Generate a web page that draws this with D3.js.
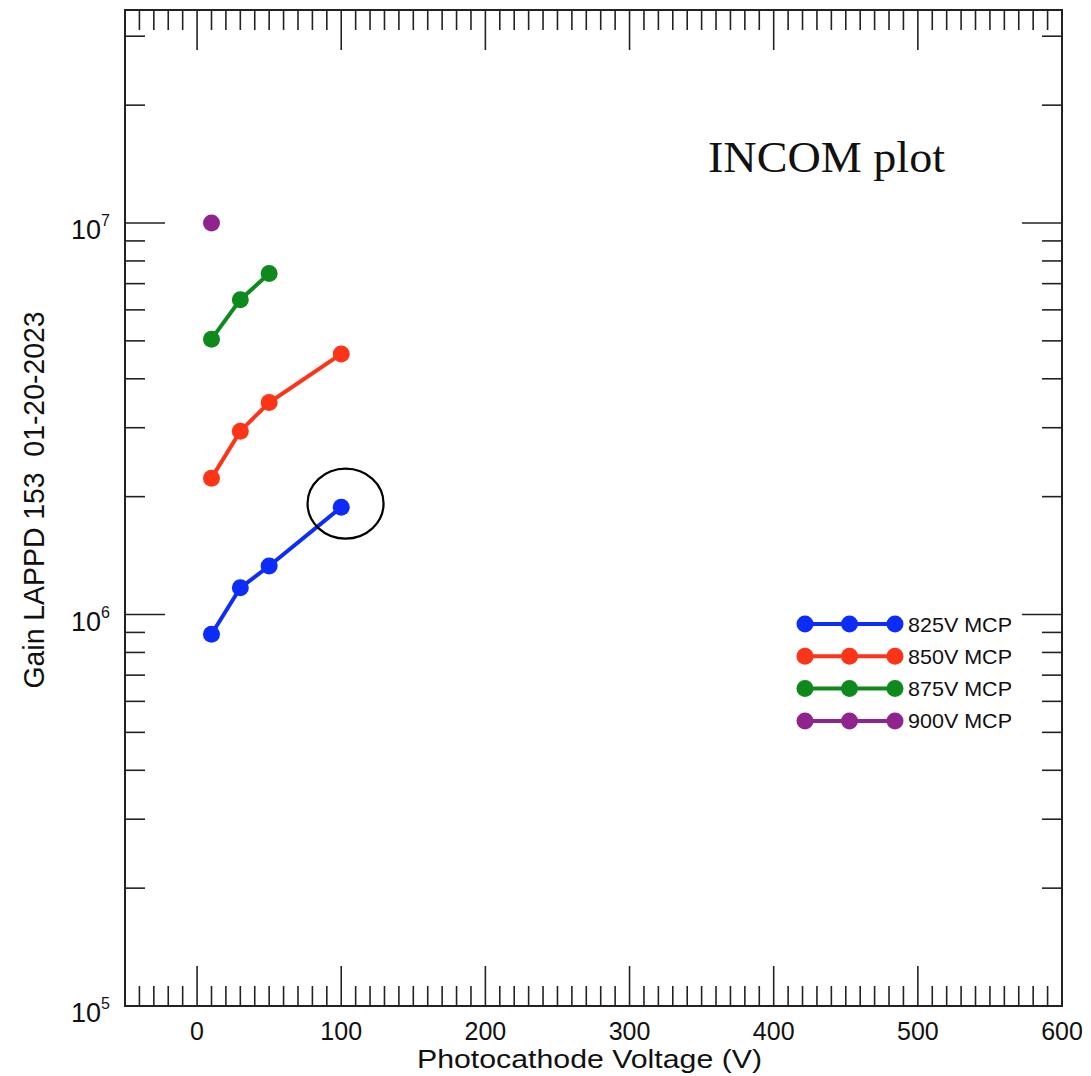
<!DOCTYPE html>
<html>
<head>
<meta charset="utf-8">
<script src="https://cdn.jsdelivr.net/npm/d3@7"></script>
<style>
  body { margin: 0; background: #fff; }
  svg { display: block; }
  text { font-family: "Liberation Sans", Arial, sans-serif; fill: #111; }
</style>
</head>
<body>
<div id="plot"></div>
<script>
const WIDTH = 1091;
const HEIGHT = 1076;
const margin = {top: 10, right: 29, bottom: 70, left: 125};

// photocathode voltage (V)
const voltages = [10, 30, 50, 100];
// gain per MCP voltage
const gain825 = [8.9e5, 1.17e6, 1.33e6, 1.88e6];
const gain850 = [2.23e6, 2.94e6, 3.48e6, 4.63e6];
const gain875 = [5.05e6, 6.37e6, 7.43e6];
const gain900 = [1.0e7];
const seriesNames = ['825V MCP', '850V MCP', '875V MCP', '900V MCP'];
const seriesColors = ['#0c2cfb', '#fd3418', '#0e8a1c', '#8f248f'];
const xTickValues = [0, 100, 200, 300, 400, 500, 600];
const yDecades = [5, 6, 7];
// annotated point (circled)
const markX = 103;
const markY = 1.92e6;

const allGains = [gain825, gain850, gain875, gain900];

var svg = d3.select('#plot')
    .append('svg')
    .attr('width', WIDTH)
    .attr('height', HEIGHT);

const x = d3.scaleLinear()
    .domain([-50, 600])
    .range([margin.left, WIDTH - margin.right]);

const y = d3.scaleLog()
    .domain([1e5, 3.5e7])
    .range([HEIGHT - margin.bottom, margin.top]);

const x0 = x.range()[0], x1 = x.range()[1];
const y0 = y.range()[0], y1 = y.range()[1];

// ---- ticks (drawn inward on all four sides)
let xMinor = d3.range(-50, 601, 10).filter(v => v % 100 != 0);
let yMinor = [];
for (let k = 5; k <= 7; k++) {
    for (let m = 2; m <= 9; m++) {
        let v = m * Math.pow(10, k);
        if (v <= y.domain()[1]) yMinor.push(v);
    }
}
const MAJOR = 40, MINOR = 20;

let ticks = svg.append('g')
    .attr('stroke', '#222')
    .attr('stroke-width', 1.6);

function vTicks(vals, len) {
    ticks.selectAll(null).data(vals).enter().append('line')
        .attr('x1', d => x(d)).attr('x2', d => x(d))
        .attr('y1', y0).attr('y2', y0 - len);
    ticks.selectAll(null).data(vals).enter().append('line')
        .attr('x1', d => x(d)).attr('x2', d => x(d))
        .attr('y1', y1).attr('y2', y1 + len);
}
function hTicks(vals, len) {
    ticks.selectAll(null).data(vals).enter().append('line')
        .attr('y1', d => y(d)).attr('y2', d => y(d))
        .attr('x1', x0).attr('x2', x0 + len);
    ticks.selectAll(null).data(vals).enter().append('line')
        .attr('y1', d => y(d)).attr('y2', d => y(d))
        .attr('x1', x1).attr('x2', x1 - len);
}
vTicks(xTickValues, MAJOR);
vTicks(xMinor, MINOR);
hTicks(yDecades.map(k => Math.pow(10, k)), MAJOR);
hTicks(yMinor, MINOR);

// frame
svg.append('rect')
    .attr('x', x0).attr('y', y1)
    .attr('width', x1 - x0).attr('height', y0 - y1)
    .attr('fill', 'none')
    .attr('stroke', '#222')
    .attr('stroke-width', 2);

// ---- tick labels
svg.append('g').selectAll('text')
    .data(xTickValues)
    .enter()
    .append('text')
    .attr('x', d => x(d))
    .attr('y', y0 + 34)
    .attr('text-anchor', 'middle')
    .attr('font-size', 25)
    .text(d => d);

let yLab = svg.append('g').selectAll('text')
    .data(yDecades)
    .enter()
    .append('text')
    .attr('x', x0 - 15)
    .attr('y', d => y(Math.pow(10, d)) + 16)
    .attr('text-anchor', 'end')
    .attr('font-size', 27);
yLab.append('tspan').text('10');
yLab.append('tspan')
    .attr('font-size', 16)
    .attr('dy', -13)
    .text(d => d);

// ---- axis titles
svg.append('text')
    .attr('x', 589.5)
    .attr('y', HEIGHT - 8)
    .attr('text-anchor', 'middle')
    .attr('font-size', 26)
    .attr('textLength', 345)
    .attr('lengthAdjust', 'spacingAndGlyphs')
    .text('Photocathode Voltage (V)');

svg.append('text')
    .attr('transform', 'translate(44, 500) rotate(-90)')
    .attr('text-anchor', 'middle')
    .attr('font-size', 29)
    .attr('textLength', 377)
    .attr('lengthAdjust', 'spacingAndGlyphs')
    .style('white-space', 'pre')
    .text('Gain LAPPD 153  01-20-2023');

// ---- series
let line = d3.line()
    .x((d, i) => x(voltages[i]))
    .y(d => y(d));

allGains.forEach((g, s) => {
    svg.append('path')
        .datum(g)
        .attr('d', line)
        .attr('fill', 'none')
        .attr('stroke', seriesColors[s])
        .attr('stroke-width', 4);
    svg.append('g').selectAll('circle')
        .data(g)
        .enter()
        .append('circle')
        .attr('cx', (d, i) => x(voltages[i]))
        .attr('cy', d => y(d))
        .attr('r', 8.5)
        .attr('fill', seriesColors[s]);
});

// circle around the highlighted point
svg.append('ellipse')
    .attr('cx', x(markX))
    .attr('cy', y(markY))
    .attr('rx', 38)
    .attr('ry', 35)
    .attr('fill', 'none')
    .attr('stroke', '#000')
    .attr('stroke-width', 2.2);

// ---- legend
let legend = svg.append('g').attr('transform', 'translate(805, 624)');
seriesNames.forEach((name, s) => {
    let row = legend.append('g').attr('transform', `translate(0, ${s * 32.3})`);
    row.append('line')
        .attr('x1', 0).attr('x2', 90)
        .attr('stroke', seriesColors[s])
        .attr('stroke-width', 4);
    row.selectAll('circle')
        .data([0, 44.5, 90])
        .enter()
        .append('circle')
        .attr('cx', d => d)
        .attr('r', 8.5)
        .attr('fill', seriesColors[s]);
    row.append('text')
        .attr('x', 103)
        .attr('y', 7.5)
        .attr('font-size', 21)
        .attr('textLength', 104)
        .attr('lengthAdjust', 'spacingAndGlyphs')
        .text(name);
});

// ---- plot label
svg.append('text')
    .attr('x', 708)
    .attr('y', 172)
    .style('font-family', '"Liberation Serif", "Times New Roman", serif')
    .attr('font-size', 45)
    .attr('textLength', 237)
    .attr('lengthAdjust', 'spacingAndGlyphs')
    .text('INCOM plot');
</script>
</body>
</html>
